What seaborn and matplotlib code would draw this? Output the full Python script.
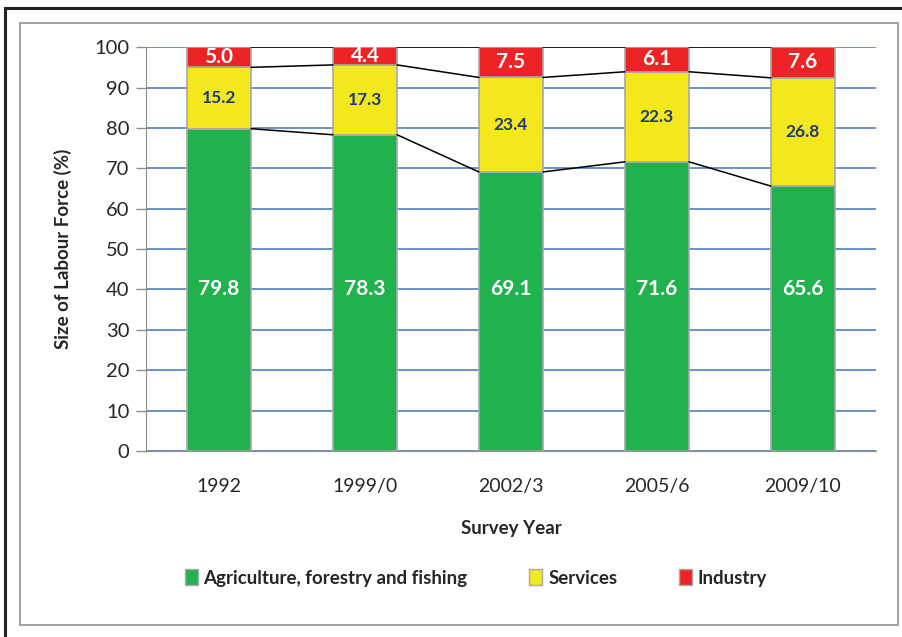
import numpy as np
import pandas as pd
import seaborn as sns
import matplotlib.pyplot as plt
from matplotlib.patches import Rectangle

years = ['1992', '1999/0', '2002/3', '2005/6', '2009/10']
agriculture = [79.8, 78.3, 69.1, 71.6, 65.6]
services = [15.2, 17.3, 23.4, 22.3, 26.8]
industry = [5.0, 4.4, 7.5, 6.1, 7.6]

series_names = ['Agriculture, forestry and fishing', 'Services', 'Industry']
colors = ['#21B24F', '#F2E81B', '#EE2325']
label_colors = ['white', '#1F3C78', 'white']

sns.set_style('white')
plt.rcParams['font.family'] = ['Lato', 'DejaVu Sans']

df = pd.DataFrame({'year': years, 'agri': agriculture,
                   'serv': services, 'ind': industry})

fig = plt.figure(figsize=(9.03, 6.37), dpi=100)
ax = fig.add_axes([0.1617, 0.292, 0.8083, 0.634])

# frames around the chart
fig.patches.append(Rectangle((5 / 903, -0.01), 1.0, 1 - 8 / 637 + 0.01, transform=fig.transFigure,
                             fill=False, edgecolor='#222222', linewidth=2.2))
fig.patches.append(Rectangle((20 / 903, 12 / 637), 878 / 903, 602 / 637, transform=fig.transFigure,
                             fill=False, edgecolor='#9a9a9a', linewidth=1.3))

width = 0.44
bottoms = [np.zeros(len(years)), np.array(agriculture), np.array(agriculture) + np.array(services)]
cols = ['agri', 'serv', 'ind']
for col, bot, c in zip(cols, bottoms, colors):
    sns.barplot(data=df, x='year', y=col, bottom=bot, color=c, width=width,
                edgecolor='#a8a8a8', linewidth=1.2, saturation=1, ax=ax, zorder=3)

# bar labels
for k, (col, bot) in enumerate(zip(cols, bottoms)):
    vals = df[col].values
    for i, v in enumerate(vals):
        if k == 0:
            y = 40
        else:
            y = bot[i] + v / 2
        ax.text(i, y, f'{v:.1f}', ha='center', va='center', fontsize=15 if k != 1 else 12.5,
                fontweight='bold', color=label_colors[k], zorder=5)

# series lines between bars
tops = [bottoms[1], bottoms[2], bottoms[2] + np.array(industry)]
for t in tops:
    for i in range(len(years) - 1):
        ax.plot([i + width / 2, i + 1 - width / 2], [t[i], t[i + 1]], color='black',
                linewidth=1.1, zorder=4)

ax.set_xlim(-0.5, len(years) - 0.5)
ax.set_ylim(0, 100)
ax.set_yticks(range(0, 101, 10))
ax.yaxis.grid(True, color='#4F81BD', linewidth=1.2, zorder=0)
ax.set_axisbelow(True)
for s in ['top', 'right']:
    ax.spines[s].set_visible(False)
ax.spines['left'].set_color('#8c8c8c')
ax.spines['bottom'].set_color('#8c8c8c')
ax.tick_params(axis='y', which='major', left=True, length=7, width=1, color='#8c8c8c',
               labelsize=14.5, pad=5)
ax.tick_params(axis='x', bottom=False, labelsize=14, pad=16)

ax.set_xlabel('Survey Year', fontsize=13.5, fontweight='bold', labelpad=18)
ax.set_ylabel('Size of Labour Force (%)', fontsize=13.5, fontweight='bold', labelpad=16)

handles = [Rectangle((0, 0), 1, 1, facecolor=c, edgecolor='#a8a8a8') for c in colors]
fig.legend(handles, series_names, loc='center', bbox_to_anchor=(0.527, 1 - 578 / 637),
           ncol=3, frameon=False, prop={'weight': 'bold', 'size': 13.5},
           handlelength=0.7, handleheight=0.9, handletextpad=0.3, columnspacing=3.3)

fig.savefig('out.png', dpi=100)
